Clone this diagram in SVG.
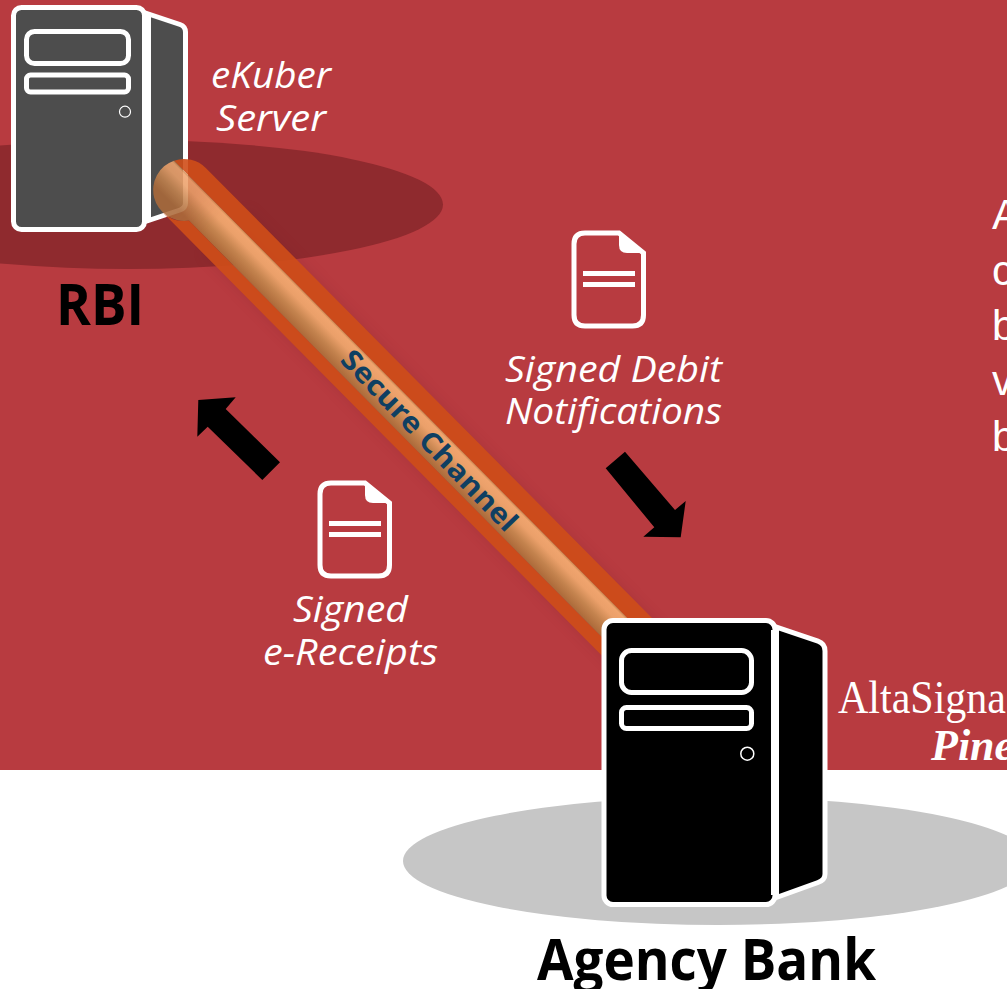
<svg xmlns="http://www.w3.org/2000/svg" width="1007" height="989" viewBox="0 0 1007 989">
<style>
.w{fill:#fff;font-family:"Open Sans","Liberation Sans",sans-serif;font-style:italic}
.k{fill:#000;font-family:"Open Sans","Liberation Sans",sans-serif;font-weight:700}
.o{fill:none;stroke:#fff;stroke-width:5}
.n{stroke:#fff;stroke-width:5;stroke-linejoin:round}
</style>
<defs>
<linearGradient id="tube" gradientUnits="userSpaceOnUse" x1="0" y1="18" x2="0" y2="-13.500">
<stop offset="0" stop-color="#AC6A3A"/><stop offset=".35" stop-color="#C4834E"/><stop offset=".7" stop-color="#EBA06A"/><stop offset=".93" stop-color="#F0A46E"/><stop offset="1" stop-color="#C98850"/>
</linearGradient>
<linearGradient id="fade" gradientUnits="userSpaceOnUse" x1="10" y1="0" x2="45" y2="0">
<stop offset="0" stop-color="#fff" stop-opacity=".88"/><stop offset="1" stop-color="#fff" stop-opacity="1"/>
</linearGradient>
<mask id="tubemask" maskUnits="userSpaceOnUse" x="-40" y="-40" width="720" height="80"><rect x="-40" y="-40" width="720" height="80" fill="url(#fade)"/></mask>
<filter id="soft" x="-10%" y="-10%" width="120%" height="120%"><feGaussianBlur stdDeviation="6"/></filter>
<g id="doc">
<path class="o" d="M331 483H365L389.500 503V565Q389.500 576 378.500 576H331Q320 576 320 565V494Q320 483 331 483Z"/>
<path fill="#fff" d="M365 481L391.700 503H373Q365 503 365 495Z"/>
<rect x="329" y="521" width="52" height="5" fill="#fff"/>
<rect x="329" y="532" width="52" height="5" fill="#fff"/>
</g>
</defs>
<rect width="1007" height="770" fill="#B83B40"/>
<rect y="770" width="1007" height="219" fill="#fff"/>
<ellipse id="shadow-rbi" cx="128" cy="204.500" rx="315" ry="64.500" fill="#8F2A2E"/>
<ellipse id="shadow-bank" cx="718" cy="861" rx="315" ry="64" fill="#C6C6C6"/>
<g id="rbi-server">
<path class="n" fill="#4D4D4D" d="M144 12.500L180 24.500Q185.500 26.500 185.500 32V203Q185.500 208 180 210L144 222Z"/>
<rect class="n" fill="#4D4D4D" x="13.500" y="7.500" width="131" height="222" rx="8"/>
<rect x="143" y="15" width="8" height="205" fill="#fff"/>
<rect class="o" x="26.500" y="31.500" width="102" height="32" rx="8"/>
<rect class="o" x="26.500" y="75" width="102" height="17" rx="4"/>
<circle cx="125" cy="111.700" r="5.500" fill="none" stroke="#fff" stroke-width="1.200"/>
</g>
<g id="connectors">
<path d="M225 231L640 650" stroke="#6E1D20" stroke-width="66" opacity=".14" fill="none" filter="url(#soft)"/>
<g transform="translate(184 190) rotate(45.250)">
<path fill="#CF4E18" opacity=".9" d="M-27.900 -13.500A31 31 0 0 1 0 -31L650 -31V-13.500Z"/>
<path fill="#CF4E18" opacity=".9" d="M25.200 18A31 31 0 0 1 0 31L650 31V18Z"/>
<path fill="url(#tube)" mask="url(#tubemask)" d="M-27.900 -13.500L650 -13.500V18H25.200A31 31 0 0 1 -27.900 -13.500Z"/>
</g>
<text transform="translate(339 361) rotate(46)" font-family="'Open Sans','Liberation Sans',sans-serif" font-weight="700" font-size="28" fill="#0F3F62" textLength="240" lengthAdjust="spacingAndGlyphs">Secure Channel</text>
<polygon id="arrow-debit" points="605.700,468.300 625,451.700 675,510 685.700,501 680.700,537.300 643.300,536.700 654.300,527.300" fill="#000"/>
<polygon id="arrow-receipt" points="198.300,400 235.700,397.300 225.700,409 280,462.300 262.300,480 207.700,426.700 197.300,436.700" fill="#000"/>
</g>
<g id="bank-server">
<path class="n" fill="#000" d="M775 626.700L818 641.200Q825 643.600 825 651V874Q825 880 818 882.500L775 898Z"/>
<rect class="n" fill="#000" x="604" y="620.500" width="171" height="284" rx="9"/>
<rect x="771" y="630" width="8" height="265" fill="#fff"/>
<rect class="o" x="621.500" y="650.500" width="130" height="42" rx="10"/>
<rect class="o" x="621.500" y="707.500" width="130" height="21" rx="5"/>
<circle cx="747.300" cy="753.700" r="6.500" fill="none" stroke="#fff" stroke-width="1.500"/>
</g>
<g id="doc-receipts"><use href="#doc"/></g>
<g id="doc-debit"><use href="#doc" transform="translate(254 -250)"/></g>
<g id="labels">
<text class="w" x="211" y="88" font-size="36" textLength="120" lengthAdjust="spacingAndGlyphs">eKuber</text>
<text class="w" x="216" y="131" font-size="36" textLength="110" lengthAdjust="spacingAndGlyphs">Server</text>
<text class="k" x="56" y="325" font-size="57" textLength="88" lengthAdjust="spacingAndGlyphs">RBI</text>
<text class="w" x="505" y="382" font-size="36" textLength="217" lengthAdjust="spacingAndGlyphs">Signed Debit</text>
<text class="w" x="505" y="424" font-size="36" textLength="217" lengthAdjust="spacingAndGlyphs">Notifications</text>
<text class="w" x="293" y="622" font-size="36" textLength="115" lengthAdjust="spacingAndGlyphs">Signed</text>
<text class="w" x="263" y="665" font-size="36" textLength="175" lengthAdjust="spacingAndGlyphs">e-Receipts</text>
<text class="k" x="537" y="980" font-size="57" textLength="339" lengthAdjust="spacingAndGlyphs">Agency Bank</text>
<text x="838" y="713" font-family="'Liberation Serif',serif" font-size="46" fill="#fff" textLength="168" lengthAdjust="spacingAndGlyphs">AltaSigna</text>
<text x="931" y="760" font-family="'Liberation Serif',serif" font-style="italic" font-weight="700" font-size="44" fill="#fff">Pine</text>
<g font-family="'Liberation Sans',sans-serif" font-size="42" fill="#fff">
<text x="992" y="229">A</text><text x="992" y="285">c</text><text x="992" y="340">b</text><text x="992" y="395">v</text><text x="992" y="451">b</text>
</g>
</g>
</svg>
